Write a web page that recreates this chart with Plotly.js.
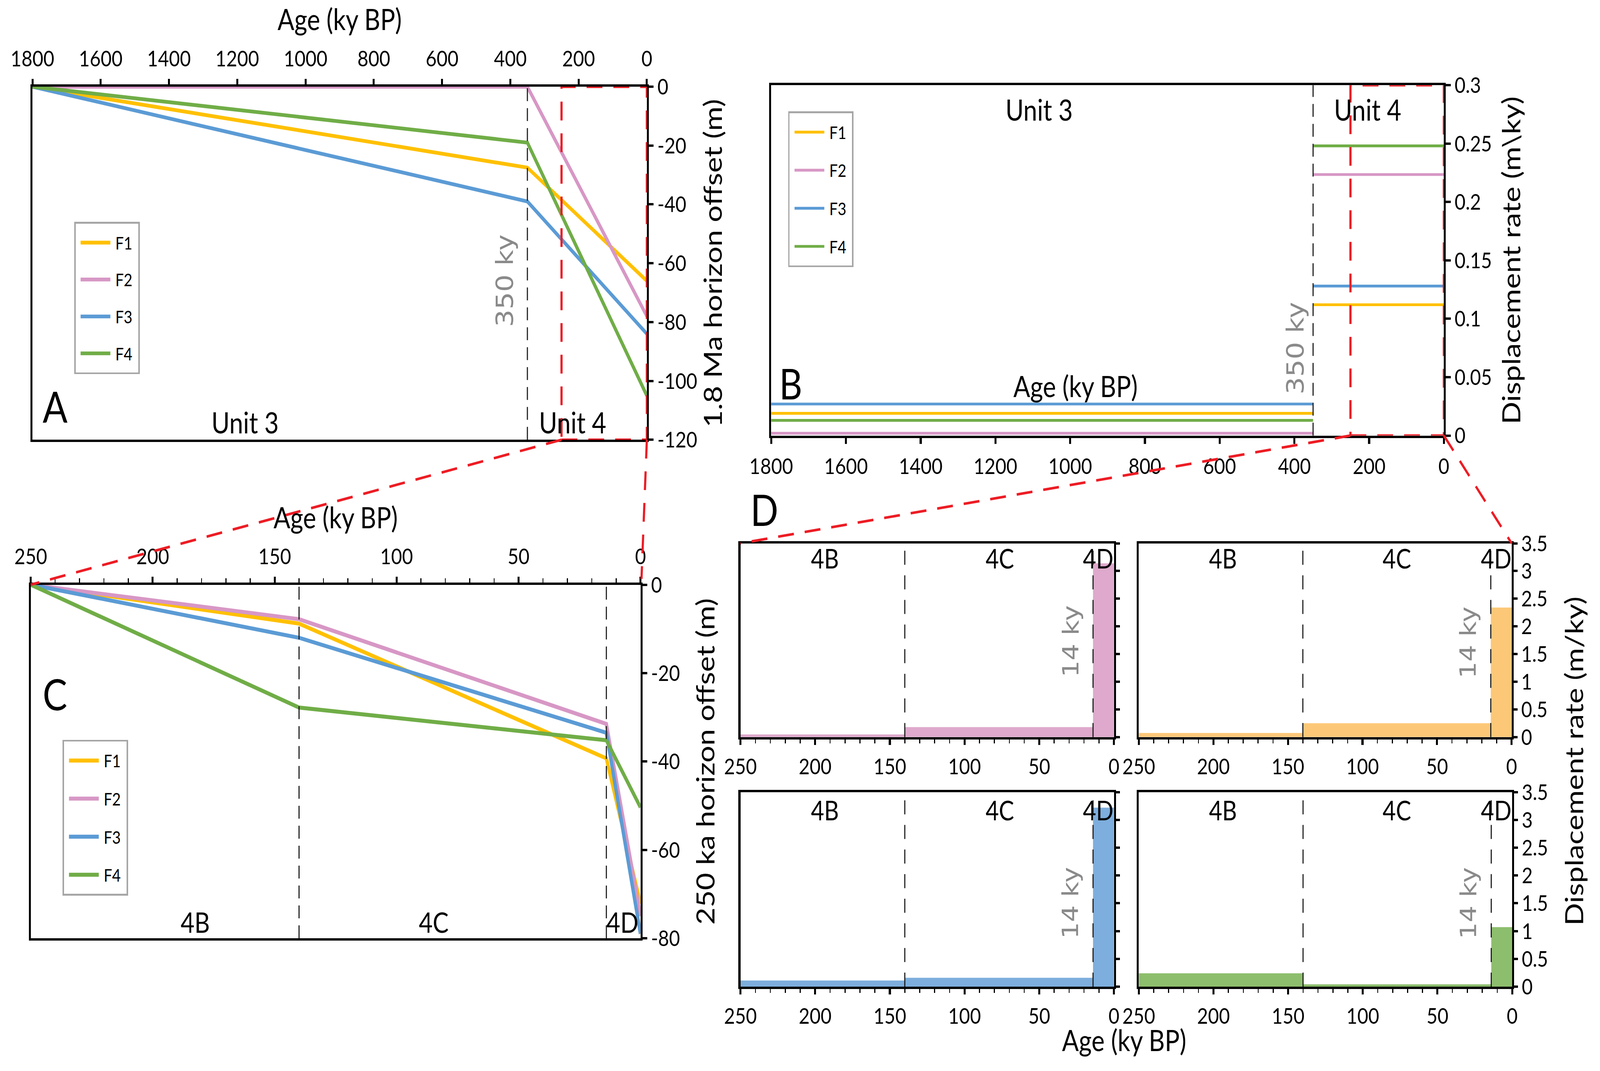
<!DOCTYPE html>
<html><head><meta charset="utf-8">
<script src="https://cdn.plot.ly/plotly-3.0.1.min.js"></script>
<style>
html,body{margin:0;padding:0;overflow:hidden;background:#fff;width:100%;height:100%}
#chart{width:1612px;height:914px;transform-origin:0 0;position:absolute;left:0;top:0}
</style></head><body><div id="chart"></div>
<script>
// ---------------- DATA ----------------
const faults = ['F1', 'F2', 'F3', 'F4'];

// Panel A : offset of the 1.8 Ma horizon (m) versus age (ky BP)
const agesA = [1800, 350, 0];
const offsetA_F1 = [0, -27.5, -66];
const offsetA_F2 = [0, 0, -78];
const offsetA_F3 = [0, -39, -84];
const offsetA_F4 = [0, -19, -105];

// Panel B : displacement rate (m/ky) in Unit 3 (1800-350 ky) and Unit 4 (350-0 ky)
const unitBounds = [1800, 350, 0];
const rateB_unit3 = [0.019, 0.002, 0.027, 0.013];   // F1..F4
const rateB_unit4 = [0.112, 0.2235, 0.128, 0.248];  // F1..F4

// Panel C : offset of the 250 ka horizon (m) versus age (ky BP)
const agesC = [250, 140, 14, 0];
const offsetC_F1 = [0, -8.8, -39.3, -72.2];
const offsetC_F2 = [0, -7.8, -31.5, -75];
const offsetC_F3 = [0, -12, -33.5, -79];
const offsetC_F4 = [0, -27.8, -35.2, -50.4];

// Panel D : displacement rate (m/ky) in sub-units 4B, 4C, 4D
const subUnits = ['4B', '4C', '4D'];
const subBounds = [250, 140, 14, 0];
const rateD_F1 = [0.073, 0.25, 2.34];
const rateD_F2 = [0.047, 0.18, 3.14];
const rateD_F3 = [0.11, 0.16, 3.22];
const rateD_F4 = [0.24, 0.04, 1.07];

// Tick labels
const ticksAgeLong = [1800, 1600, 1400, 1200, 1000, 800, 600, 400, 200, 0];
const ticksAgeShort = [250, 200, 150, 100, 50, 0];
const ticksOffsetA = [0, -20, -40, -60, -80, -100, -120];
const ticksRateB = [0, 0.05, 0.1, 0.15, 0.2, 0.25, 0.3];
const ticksOffsetC = [0, -20, -40, -60, -80];
const ticksRateD = [0, 0.5, 1, 1.5, 2, 2.5, 3, 3.5];

// ---------------- STYLE / LAYOUT ----------------
const lineColors = {F1: '#FFC000', F2: '#D797C5', F3: '#5B9BD5', F4: '#70AD47'};
const barColors = {F1: '#FCC878', F2: '#DEA9CC', F3: '#7DAEDD', F4: '#8DBE6D'};
const RED = '#ED1C24';
const GRAY = '#8A8A8A';

const W = 1612, H = 914;
// fit the drawing to the actual window
const vw = window.innerWidth || 4837, vh = window.innerHeight || 2743;
document.getElementById('chart').style.transform = 'scale(' + (vw / W) + ',' + (vh / H) + ')';

const fx = p => p / W, fy = p => 1 - p / H;
const dom = {
  A: {x: [32.7, 651.7], y: [74, 375.3]},
  B: {x: [777, 1454.7], y: [72.7, 371.7]},
  C: {x: [31, 645.3], y: [499, 800.7]},
  DTL: {x: [746, 1122.3], y: [463.7, 629]},
  DTR: {x: [1147.3, 1523], y: [463.7, 629]},
  DBL: {x: [746, 1122.3], y: [676, 842]},
  DBR: {x: [1147.3, 1523.5], y: [676, 842]}
};
const xd = d => [fx(d.x[0]), fx(d.x[1])];
const yd = d => [fy(d.y[1]), fy(d.y[0])];
const toPx = (d, range, v) => d.x[0] + (v - range[0]) / (range[1] - range[0]) * (d.x[1] - d.x[0]);

const LATO = 'Lato, Liberation Sans, sans-serif';
const DJV = 'DejaVu Sans, Verdana, sans-serif';
const tf = {family: LATO, size: 19, color: '#000'};
const titleFont = {family: LATO, size: 25.5, color: '#000'};
const axBase = {showgrid: false, zeroline: false, showline: true, mirror: true, linecolor: '#000',
  linewidth: 1.7, ticks: 'outside', ticklen: 5, tickwidth: 1.5, tickcolor: '#000',
  tickfont: tf, tickmode: 'array', fixedrange: true};
const ax = e => Object.assign({}, axBase, e);
const lab = arr => arr.map(v => String(v));
const minorD = {tickmode: 'linear', tick0: 0, dtick: 10, ticks: 'outside', ticklen: 3.5, tickwidth: 1.3, tickcolor: '#000'};

// ---------------- TRACES ----------------
const traces = [];
const offA = {F1: offsetA_F1, F2: offsetA_F2, F3: offsetA_F3, F4: offsetA_F4};
const offC = {F1: offsetC_F1, F2: offsetC_F2, F3: offsetC_F3, F4: offsetC_F4};

faults.forEach(f => traces.push({type: 'scatter', mode: 'lines', x: agesA, y: offA[f], name: f,
  xaxis: 'x', yaxis: 'y', legend: 'legend', legendgroup: 'A' + f,
  line: {color: lineColors[f], width: 3.2}, hoverinfo: 'x+y'}));

faults.forEach((f, i) => traces.push({type: 'scatter', mode: 'lines',
  x: [unitBounds[0], unitBounds[1], null, unitBounds[1], unitBounds[2]],
  y: [rateB_unit3[i], rateB_unit3[i], null, rateB_unit4[i], rateB_unit4[i]],
  name: f, xaxis: 'x2', yaxis: 'y2', legend: 'legend2', legendgroup: 'B' + f,
  line: {color: lineColors[f], width: 2.4}, hoverinfo: 'x+y'}));

faults.forEach(f => traces.push({type: 'scatter', mode: 'lines', x: agesC, y: offC[f], name: f,
  xaxis: 'x3', yaxis: 'y3', legend: 'legend3', legendgroup: 'C' + f,
  line: {color: lineColors[f], width: 3.4}, hoverinfo: 'x+y'}));

const mids = subBounds.slice(0, -1).map((b, i) => (b + subBounds[i + 1]) / 2);
const widths = subBounds.slice(0, -1).map((b, i) => b - subBounds[i + 1]);
const dPanels = [
  {f: 'F2', r: rateD_F2, xa: 'x4', ya: 'y4'},
  {f: 'F1', r: rateD_F1, xa: 'x5', ya: 'y5'},
  {f: 'F3', r: rateD_F3, xa: 'x6', ya: 'y6'},
  {f: 'F4', r: rateD_F4, xa: 'x7', ya: 'y7'}
];
dPanels.forEach(p => traces.push({type: 'bar', x: mids, y: p.r, width: widths, text: subUnits,
  name: p.f, xaxis: p.xa, yaxis: p.ya, showlegend: false, textposition: 'none',
  marker: {color: barColors[p.f], line: {width: 0}}, hoverinfo: 'text+y'}));

// ---------------- SHAPES ----------------
const redLine = {color: RED, width: 2.2, dash: '16px,11px'};
const blkDash = {color: '#1a1a1a', width: 1.1, dash: '11px,6px'};
const shapes = [];
shapes.push({type: 'rect', xref: 'x', yref: 'y', x0: 250, x1: 0, y0: -120, y1: 0, line: redLine});
shapes.push({type: 'rect', xref: 'x2', yref: 'y2', x0: 250, x1: 0, y0: 0, y1: 0.3, line: redLine});
shapes.push({type: 'line', xref: 'x', yref: 'y domain', x0: unitBounds[1], x1: unitBounds[1], y0: 0, y1: 1, line: blkDash});
shapes.push({type: 'line', xref: 'x2', yref: 'y2 domain', x0: unitBounds[1], x1: unitBounds[1], y0: 0, y1: 1, line: blkDash});
['x3', 'x4', 'x5', 'x6', 'x7'].forEach(xa => {
  [subBounds[1], subBounds[2]].forEach(b => shapes.push({type: 'line', xref: xa,
    yref: xa.replace('x', 'y') + ' domain', x0: b, x1: b, y0: 0, y1: 1,
    line: xa === 'x3' ? blkDash : {color: '#1a1a1a', width: 1.1, dash: '12px,9px'}}));
});
// connector lines (zoom guides)
const ax250 = toPx(dom.A, [1800, 0], 250), ax0 = toPx(dom.A, [1800, 0], 0);
const bx250 = toPx(dom.B, [1800, 0], 250), bx0 = toPx(dom.B, [1800, 0], 0);
const conn = (x0, y0, x1, y1) => ({type: 'line', xref: 'paper', yref: 'paper',
  x0: fx(x0), y0: fy(y0), x1: fx(x1), y1: fy(y1), line: redLine});
shapes.push(conn(ax250, dom.A.y[1], dom.C.x[0], dom.C.y[0]));
shapes.push(conn(ax0, dom.A.y[1], dom.C.x[1] + 1, dom.C.y[0] - 5));
shapes.push(conn(bx250, dom.B.y[1], dom.DTL.x[0], dom.DTL.y[0]));
shapes.push(conn(bx0, dom.B.y[1], dom.DTR.x[1], dom.DTR.y[0]));

// ---------------- ANNOTATIONS ----------------
const ann = (text, bx, by, size, extra) => Object.assign({text: text, x: fx(bx), y: fy(by),
  xref: 'paper', yref: 'paper', showarrow: false, xanchor: 'center', yanchor: 'middle',
  font: {family: LATO, size: size, color: '#000'}}, extra || {});
const rotGray = (text, xa, xv, by, shift, size) => ({text: text, xref: xa, x: xv, yref: 'paper', y: fy(by),
  xanchor: 'right', yanchor: 'middle', xshift: shift, textangle: -90, showarrow: false,
  font: {family: DJV, size: size, color: GRAY}});
const annotations = [
  ann('A', 55, 346, 37),
  ann('Unit 3', 247, 359.6, 25), ann('Unit 4', 577.3, 359.6, 25),
  rotGray('350 ky', 'x', unitBounds[1], 239.7, -7, 23.5),
  ann('B', 796, 327, 36),
  ann('Unit 3', 1047.3, 92.8, 25), ann('Unit 4', 1378, 92.8, 25),
  ann('Age (ky BP)', 1083.7, 329.3, 25),
  rotGray('350 ky', 'x2', unitBounds[1], 296.7, -2, 23.5),
  ann('C', 55, 591.3, 37),
  ann(subUnits[0], 196.4, 786, 24), ann(subUnits[1], 437.3, 786, 24), ann(subUnits[2], 626.7, 786, 24),
  ann('D', 770, 434.5, 37),
  ann('Age (ky BP)', 1132, 887, 25),
  ann('Displacement rate (m/ky)', 1585, 650, 25.5, {textangle: -90})
];
const subLabX = [[831.3, 1007, 1106.3], [1231.6, 1407, 1507.7]];
[[0, 476.3], [1, 476.3], [0, 691], [1, 691]].forEach(([c, y]) => {
  subUnits.forEach((s, i) => annotations.push(ann(s, subLabX[c][i], y, 23)));
});
[['x4', 547.7], ['x5', 548], ['x6', 771], ['x7', 771]].forEach(([xa, y]) =>
  annotations.push(rotGray(subBounds[2] + ' ky', xa, subBounds[2], y, -8, 22.5)));

// ---------------- AXES ----------------
const legendBase = {xanchor: 'left', yanchor: 'top', bgcolor: '#fff', bordercolor: '#A6A6A6',
  borderwidth: 1.5, font: {family: LATO, size: 15, color: '#000'}, tracegroupgap: 9, itemwidth: 30};
const layout = {
  width: W, height: H, margin: {l: 0, r: 0, t: 0, b: 0, pad: 0},
  paper_bgcolor: '#fff', plot_bgcolor: '#fff', barmode: 'overlay',
  font: {family: LATO, color: '#000'}, showlegend: true, hovermode: 'closest',
  xaxis: ax({domain: xd(dom.A), anchor: 'y', side: 'top', range: [1800, 0],
    tickvals: ticksAgeLong, ticktext: lab(ticksAgeLong), ticklabelstandoff: 3,
    title: {text: 'Age (ky BP)', font: {family: LATO, size: 25, color: '#000'}, standoff: 4}}),
  yaxis: ax({domain: yd(dom.A), anchor: 'x', side: 'right', range: [-120, 0],
    tickvals: ticksOffsetA, ticktext: lab(ticksOffsetA),
    title: {text: '1.8 Ma horizon offset (m)', font: titleFont, standoff: 0}}),
  xaxis2: ax({domain: xd(dom.B), anchor: 'y2', side: 'bottom', range: [1800, 0], linewidth: 2,
    tickvals: ticksAgeLong, ticktext: lab(ticksAgeLong), ticklabelstandoff: 3}),
  yaxis2: ax({domain: yd(dom.B), anchor: 'x2', side: 'right', range: [0, 0.3], linewidth: 2,
    tickvals: ticksRateB, ticktext: lab(ticksRateB),
    title: {text: 'Displacement rate (m\\ky)', font: titleFont, standoff: 12}}),
  xaxis3: ax({domain: xd(dom.C), anchor: 'y3', side: 'top', range: [250, 0],
    tickvals: ticksAgeShort, ticktext: lab(ticksAgeShort), minor: minorD, ticklabelstandoff: 3,
    title: {text: 'Age (ky BP)', font: {family: LATO, size: 25, color: '#000'}, standoff: 4}}),
  yaxis3: ax({domain: yd(dom.C), anchor: 'x3', side: 'right', range: [-80, 0],
    tickvals: ticksOffsetC, ticktext: lab(ticksOffsetC),
    title: {text: '250 ka horizon offset (m)', font: titleFont, standoff: 18}}),
  shapes: shapes,
  annotations: annotations,
  legend: Object.assign({}, legendBase, {x: fx(74.7), y: fy(189.3)}),
  legend2: Object.assign({}, legendBase, {x: fx(794), y: fy(95), tracegroupgap: 10}),
  legend3: Object.assign({}, legendBase, {x: fx(63), y: fy(631.3), tracegroupgap: 10})
};
const dKeys = [['DTL', 4, false], ['DTR', 5, true], ['DBL', 6, false], ['DBR', 7, true]];
dKeys.forEach(([k, n, showLab]) => {
  layout['xaxis' + n] = ax({domain: xd(dom[k]), anchor: 'y' + n, side: 'bottom', range: [250, 0],
    tickvals: ticksAgeShort, ticktext: lab(ticksAgeShort), minor: minorD, ticklabelstandoff: 2});
  layout['yaxis' + n] = ax({domain: yd(dom[k]), anchor: 'x' + n, side: 'right', range: [0, 3.5],
    tickvals: ticksRateD, ticktext: lab(ticksRateD), showticklabels: showLab, ticklen: 4});
});

Plotly.newPlot('chart', traces, layout, {displayModeBar: false, responsive: false});
</script></body></html>
